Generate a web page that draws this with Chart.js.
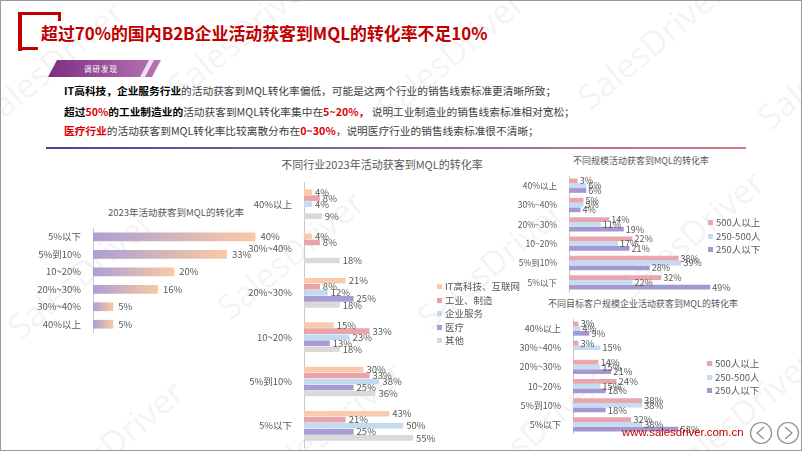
<!DOCTYPE html>
<html lang="zh">
<head>
<meta charset="UTF-8">
<title>活动获客到MQL的转化率</title>
<script src="https://cdn.jsdelivr.net/npm/chart.js"></script>
<style>
  body { margin: 0; background: #fff; font-family: "Noto Sans CJK SC", "Noto Sans", sans-serif; }
  #slide { position: relative; width: 802px; height: 451px; overflow: hidden; border: 1px solid #9a9a9a; box-sizing: border-box; background: #fff; }
  .abs { position: absolute; }
  .wm { position: absolute; font-family: "Open Sans", sans-serif; font-size: 34px; color: rgba(160,160,160,0.13); transform: rotate(-40deg); white-space: nowrap; pointer-events: none; }
  #title { left: 40px; top: 19px; font-size: 16.9px; font-weight: bold; color: #c00000; white-space: nowrap; }
  .br { position: absolute; background: #c00000; }
  #tag { left: 47px; top: 59px; width: 113px; height: 17px; }
  .line { position: absolute; left: 63px; font-size: 10.7px; color: #404040; white-space: nowrap; }
  .line b { color: #000; }
  .line .r { color: #e00000; font-weight: bold; }
  #rule { left: 45px; top: 146px; width: 700px; height: 2px; background: linear-gradient(90deg, #4d4393, #8a6aa8 50%, #de7580); }
  .ct { position: absolute; color: #595959; white-space: nowrap; transform: translateX(-50%); }
  canvas { position: absolute; }
  .legend { position: absolute; font-size: 9.5px; color: #595959; }
  .legend div { position: absolute; white-space: nowrap; line-height: 12px; }
  .legend span { display: inline-block; width: 5px; height: 5px; margin-right: 3px; vertical-align: 1px; }
  #site { left: 621px; top: 425px; font-family: "Liberation Sans", Arial, sans-serif; font-size: 11.4px; color: #c00000; }
</style>
</head>
<body>
<div id="slide">
  <div id="wms"></div>

  <div class="br" style="left:17px;top:11px;width:4px;height:39px"></div>
  <div class="br" style="left:17px;top:11px;width:43px;height:3px"></div>
  <div class="br" style="left:57px;top:11px;width:3px;height:9px"></div>
  <div class="br" style="left:17px;top:46px;width:20px;height:3px"></div>
  <div id="title" class="abs">超过70%的国内B2B企业活动获客到MQL的转化率不足10%</div>

  <svg id="tag" class="abs" viewBox="0 0 113 17">
    <defs>
      <linearGradient id="tg" x1="0" x2="1">
        <stop offset="0" stop-color="#7e2f82"/>
        <stop offset="1" stop-color="#b774b5"/>
      </linearGradient>
    </defs>
    <polygon points="9,0 113,0 104,17 0,17" fill="url(#tg)"/>
    <polygon points="101,0 106,0 97,17 92,17" fill="#fff" opacity="0.8"/>
    <text x="36" y="11.5" font-size="7.5" fill="#fff" letter-spacing="1">调研发现</text>
  </svg>

  <div class="line" style="top:82px"><b>IT高科技，企业服务行业</b>的活动获客到MQL转化率偏低，可能是这两个行业的销售线索标准更清晰所致；</div>
  <div class="line" style="top:103px"><b>超过</b><span class="r">50%</span><b>的工业制造业的</b>活动获客到MQL转化率集中在<span class="r">5~20%，</span> 说明工业制造业的销售线索标准相对宽松；</div>
  <div class="line" style="top:122px"><span class="r">医疗行业</span>的活动获客到MQL转化率比较离散分布在<span class="r">0~30%</span>，说明医疗行业的销售线索标准很不清晰；</div>
  <div id="rule" class="abs"></div>

  <div class="ct" style="left:175px;top:204px;font-size:9.5px">2023年活动获客到MQL的转化率</div>
  <div class="ct" style="left:381px;top:155px;font-size:11px">不同行业2023年活动获客到MQL的转化率</div>
  <div class="ct" style="left:640px;top:153px;font-size:9px">不同规模活动获客到MQL的转化率</div>
  <div class="ct" style="left:642px;top:296px;font-size:9px">不同目标客户规模企业活动获客到MQL的转化率</div>

  <canvas id="overall" width="275" height="105" style="left:30px;top:227px"></canvas>
  <canvas id="industry" width="212" height="266" style="left:240px;top:181px"></canvas>
  <canvas id="scale" width="256" height="116" style="left:505px;top:175px"></canvas>
  <canvas id="target" width="196" height="115" style="left:505px;top:318px"></canvas>

  <div id="legIndustry" class="legend" style="left:436px;top:279px"></div>
  <div id="legScale" class="legend" style="left:707px;top:215px"></div>
  <div id="legTarget" class="legend" style="left:706px;top:356px"></div>

  <div id="site" class="abs">www.salesdriver.com.cn</div>
  <svg class="abs" style="left:747px;top:420px" width="54" height="26">
    <circle cx="13" cy="12" r="10.5" fill="none" stroke="#8c8c8c" stroke-width="1.2"/>
    <polyline points="16,6 9,12 16,18" fill="none" stroke="#8c8c8c" stroke-width="1.2"/>
    <circle cx="40" cy="12" r="10.5" fill="none" stroke="#8c8c8c" stroke-width="1.2"/>
    <polyline points="37,6 44,12 37,18" fill="none" stroke="#8c8c8c" stroke-width="1.2"/>
  </svg>
</div>

<script>
// 2023年活动获客到MQL的转化率
const rangeLabels = ['5%以下', '5%到10%', '10~20%', '20%~30%', '30%~40%', '40%以上'];
const overallRate = [40, 33, 20, 16, 5, 5];

// 不同行业
const industryRanges = ['40%以上', '30%~40%', '20%~30%', '10~20%', '5%到10%', '5%以下'];
const industryNames = ['IT高科技、互联网', '工业、制造', '企业服务', '医疗', '其他'];
const itRate = [4, 4, 21, 15, 30, 43];
const manufRate = [8, 8, 8, 33, 33, 21];
const serviceRate = [4, 0, 12, 23, 38, 50];
const medicalRate = [0, 0, 25, 13, 25, 25];
const otherRate = [9, 18, 18, 18, 36, 55];

// 不同规模
const sizeRanges = ['40%以上', '30%~40%', '20%~30%', '10~20%', '5%到10%', '5%以下'];
const sizeNames = ['500人以上', '250-500人', '250人以下'];
const scaleBigRate = [3, 5, 14, 22, 38, 32];
const scaleMidRate = [6, 5, 11, 17, 39, 22];
const scaleSmallRate = [6, 4, 19, 21, 28, 49];

// 不同目标客户规模
const targetBigRate = [3, 3, 14, 24, 38, 32];
const targetMidRate = [4, 15, 15, 15, 38, 38];
const targetSmallRate = [9, 0, 21, 18, 18, 58];

const industryColors = ['#f9cbaa', '#e9a3aa', '#c3dbf1', '#a99bd3', '#d9d9d9'];
const sizeColors = ['#e9a6ae', '#c5dcf2', '#a597cf'];

// watermark
const wms = document.getElementById('wms');
[[-40, 40], [150, 10], [360, 30], [560, 20], [740, 40], [-10, 250], [200, 230], [400, 240], [600, 210],
 [20, 420], [240, 400], [440, 410], [650, 390]].forEach(p => {
  const d = document.createElement('div');
  d.className = 'wm';
  d.style.left = p[0] + 'px';
  d.style.top = p[1] + 'px';
  d.textContent = 'SalesDriver';
  wms.appendChild(d);
});

// label at the end of each bar
const valueLabels = {
  id: 'valueLabels',
  afterDatasetsDraw(chart, args, o) {
    const ctx = chart.ctx;
    ctx.save();
    ctx.font = o.font;
    ctx.fillStyle = '#595959';
    ctx.textBaseline = 'middle';
    ctx.textAlign = 'left';
    chart.data.datasets.forEach((ds, i) => {
      chart.getDatasetMeta(i).data.forEach((bar, j) => {
        const v = ds.data[j];
        if (!v) return;
        ctx.fillText(v + '%', bar.x + o.offset, bar.y);
      });
    });
    ctx.restore();
  }
};

function makeChart(id, labels, datasets, axisW, max, padRight, tickSize, catPct, barPct, labelFont, offset) {
  return new Chart(document.getElementById(id), {
    type: 'bar',
    data: { labels: labels, datasets: datasets },
    plugins: [valueLabels],
    options: {
      indexAxis: 'y',
      responsive: false,
      animation: false,
      layout: { padding: { left: 0, top: 0, bottom: 0, right: padRight } },
      datasets: { bar: { categoryPercentage: catPct, barPercentage: barPct } },
      scales: {
        x: { display: false, min: 0, max: max },
        y: {
          afterFit: s => { s.width = axisW; s.paddingTop = 0; s.paddingBottom = 0; },
          grid: { display: false },
          border: { display: true, color: '#c8c8c8' },
          ticks: { color: '#595959', padding: 4, font: { size: tickSize, family: 'Noto Sans CJK SC' } }
        }
      },
      plugins: {
        legend: { display: false },
        tooltip: { enabled: false },
        valueLabels: { font: labelFont, offset: offset }
      }
    }
  });
}

function legend(id, names, colors, gap) {
  const el = document.getElementById(id);
  names.forEach((n, i) => {
    const d = document.createElement('div');
    d.style.top = (i * gap) + 'px';
    d.innerHTML = '<span style="background:' + colors[i] + '"></span>' + n;
    el.appendChild(d);
  });
}

// gradient bars, purple to peach along each bar
makeChart('overall', rangeLabels, [{
  data: overallRate,
  backgroundColor: c => {
    const chart = c.chart;
    if (!chart.chartArea || c.type !== 'data') return '#c8b0c8';
    const x = chart.scales.x;
    const g = chart.ctx.createLinearGradient(x.getPixelForValue(0), 0, x.getPixelForValue(c.raw), 0);
    g.addColorStop(0, '#ab9fd3');
    g.addColorStop(1, '#fbc9a4');
    return g;
  }
}], 62, 50, 10, 9.5, 1, 0.5, '9.5px "Noto Sans CJK SC"', 5);

makeChart('industry', industryRanges, [itRate, manufRate, serviceRate, medicalRate, otherRate].map((d, i) => ({
  label: industryNames[i], data: d, backgroundColor: industryColors[i]
})), 63, 60, 30, 9.5, 0.68, 0.92, '9.5px "Noto Sans CJK SC"', 3);

makeChart('scale', sizeRanges, [scaleBigRate, scaleMidRate, scaleSmallRate].map((d, i) => ({
  label: sizeNames[i], data: d, backgroundColor: sizeColors[i]
})), 63, 60, 20, 8.5, 0.74, 1, '9px "Noto Sans CJK SC"', 2);

makeChart('target', sizeRanges, [targetBigRate, targetMidRate, targetSmallRate].map((d, i) => ({
  label: sizeNames[i], data: d, backgroundColor: sizeColors[i]
})), 67, 60, 20, 9, 0.74, 1, '9.5px "Noto Sans CJK SC"', 2);

legend('legIndustry', industryNames, industryColors, 13.5);
legend('legScale', sizeNames, sizeColors, 13.5);
legend('legTarget', sizeNames, sizeColors, 13.5);
</script>
</body>
</html>
